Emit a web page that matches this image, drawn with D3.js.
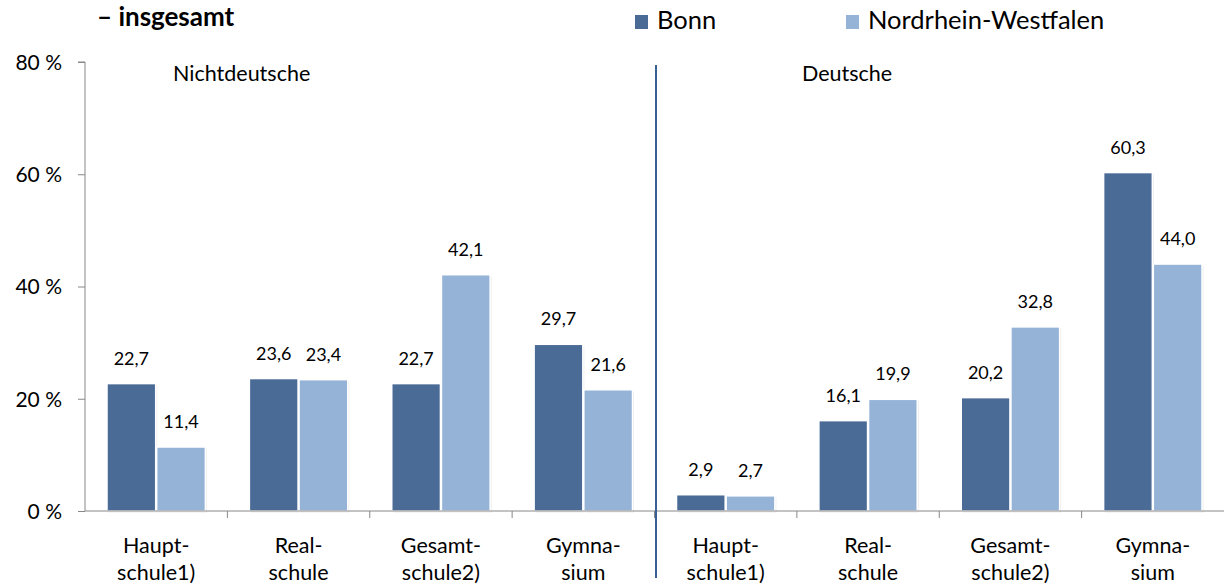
<!DOCTYPE html>
<html><head><meta charset="utf-8">
<script src="https://cdn.jsdelivr.net/npm/d3@7"></script>
<style>body{margin:0;background:#fff}svg{display:block}</style>
</head><body>
<script>
const categories = ["Haupt-\nschule1)", "Real-\nschule", "Gesamt-\nschule2)", "Gymna-\nsium",
                    "Haupt-\nschule1)", "Real-\nschule", "Gesamt-\nschule2)", "Gymna-\nsium"];
const groups = ["Nichtdeutsche", "Deutsche"];
const seriesNames = ["Bonn", "Nordrhein-Westfalen"];
const bonn = [22.7, 23.6, 22.7, 29.7, 2.9, 16.1, 20.2, 60.3];
const nrw  = [11.4, 23.4, 42.1, 21.6, 2.7, 19.9, 32.8, 44.0];
const yTicks = [0, 20, 40, 60, 80];
const colors = ["#4a6b96", "#95b3d7"];

const W = 1224, H = 586;
const font = "Lato, 'Open Sans', sans-serif";
const svg = d3.select("body").append("svg").attr("width", W).attr("height", H)
  .style("font-family", font);

const x0 = d3.scaleBand().domain(d3.range(categories.length)).range([85, 1224]).paddingInner(0).paddingOuter(0);
const x1 = d3.scaleBand().domain([0, 1]).range([22, x0.bandwidth() - 22]).paddingInner(0.02);
const y = d3.scaleLinear().domain([0, 80]).range([511, 62]);

// y axis
const yAxis = d3.axisLeft(y).tickValues(yTicks).tickSize(7).tickFormat(d => d + " %");
const gy = svg.append("g").attr("transform", "translate(85,0)").call(yAxis);
gy.select(".domain").attr("stroke", "#888").attr("d", "M-7,62H0V511");
gy.selectAll(".tick line").attr("stroke", "#888");
gy.selectAll(".tick text").attr("x", -23).attr("dy", "0.35em").style("font-size", "21px")
  .style("font-family", font).attr("fill", "#000");

// category separators
svg.append("g").selectAll("line").data(d3.range(1, categories.length)).join("line")
  .attr("x1", i => x0(i)).attr("x2", i => x0(i)).attr("y1", 511).attr("y2", 518).attr("stroke", "#888");

// bars
const data = categories.map((c, i) => ({i, vals: [bonn[i], nrw[i]]}));
const g = svg.append("g");
data.forEach(d => {
  d.vals.forEach((v, s) => {
    const bx = x0(d.i) + x1(s);
    g.append("rect").attr("x", bx + 1.5).attr("y", y(v) + 1.5)
      .attr("width", x1.bandwidth()).attr("height", y(0) - y(v))
      .attr("fill", "#000").attr("opacity", 0.08);
    g.append("rect").attr("x", bx).attr("y", y(v))
      .attr("width", x1.bandwidth()).attr("height", y(0) - y(v))
      .attr("fill", colors[s]).attr("stroke", "#fff").attr("stroke-width", 1.5);
    g.append("text").attr("x", bx + x1.bandwidth() / 2).attr("y", y(v) - 19)
      .attr("text-anchor", "middle").style("font-size", "18px").text(v.toFixed(1).replace(".", ","));
  });
});
// axis line on top
svg.append("line").attr("x1", 85).attr("x2", 1224).attr("y1", 511).attr("y2", 511).attr("stroke", "#888");

// category labels
data.forEach(d => {
  const lines = categories[d.i].split("\n");
  const cx = x0(d.i) + x0.bandwidth() / 2;
  const t = svg.append("text").attr("text-anchor", "middle").style("font-size", "21.5px")
    .attr("x", cx).attr("y", 553);
  lines.forEach((l, k) => t.append("tspan").attr("x", cx).attr("dy", k ? 27 : 0).text(l));
});

// divider
svg.append("line").attr("x1", 656).attr("x2", 656).attr("y1", 65).attr("y2", 578)
  .attr("stroke", "#3a5f95").attr("stroke-width", 2);

// group labels
svg.append("text").attr("x", 173).attr("y", 81).style("font-size", "21.5px").text(groups[0]);
svg.append("text").attr("x", 802).attr("y", 81).style("font-size", "21.5px").text(groups[1]);

// title
svg.append("text").attr("x", 97).attr("y", 26).style("font-size", "26px").style("font-weight", "bold").text("– insgesamt");

// legend
const legX = [635, 846];
seriesNames.forEach((n, s) => {
  svg.append("rect").attr("x", legX[s]).attr("y", 15).attr("width", 13).attr("height", 14).attr("fill", colors[s]);
  svg.append("text").attr("x", legX[s] + 22).attr("y", 29).style("font-size", "25.5px").text(n);
});
</script>
</body></html>
